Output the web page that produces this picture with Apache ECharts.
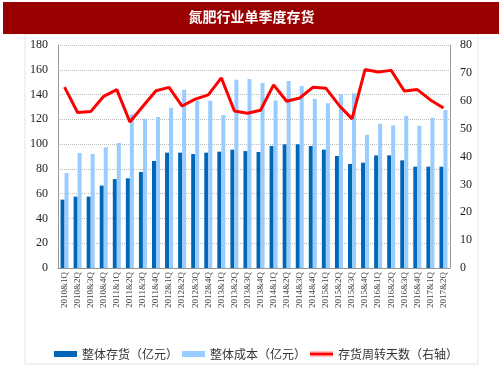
<!DOCTYPE html>
<html>
<head>
<meta charset="utf-8">
<script src="https://cdn.jsdelivr.net/npm/echarts@6/dist/echarts.min.js"></script>
<style>
  html, body { margin: 0; padding: 0; background: #fff; }
  #main { width: 503px; height: 378px; }
</style>
</head>
<body>
<div id="main"></div>
<script>
// 季度
const quarters = [
  '2010&1Q', '2010&2Q', '2010&3Q', '2010&4Q', '2011&1Q', '2011&2Q', '2011&3Q', '2011&4Q',
  '2012&1Q', '2012&2Q', '2012&3Q', '2012&4Q', '2013&1Q', '2013&2Q', '2013&3Q', '2013&4Q',
  '2014&1Q', '2014&2Q', '2014&3Q', '2014&4Q', '2015&1Q', '2015&2Q', '2015&3Q', '2015&4Q',
  '2016&1Q', '2016&2Q', '2016&3Q', '2016&4Q', '2017&1Q', '2017&2Q'
];
// 整体存货（亿元）
const inventory = [
  55.2, 57.6, 57.6, 66.5, 71.8, 72.4, 77.5, 86.4, 93.1, 93.1, 92.0, 93.1, 93.9, 95.5, 94.4,
  93.6, 98.5, 99.8, 99.8, 98.5, 95.5, 90.4, 83.9, 85.0, 90.9, 90.9, 86.9, 81.8, 81.8, 81.8
];
// 整体成本（亿元）
const cost = [
  76.7, 92.8, 92.0, 97.4, 100.9, 124.0, 120.5, 121.9, 129.4, 143.9, 135.3, 135.1, 123.5, 152.0, 152.5,
  149.3, 135.3, 150.9, 146.9, 136.4, 132.9, 140.2, 141.0, 107.6, 116.5, 115.1, 122.9, 114.9, 121.3, 127.5
];
// 存货周转天数（右轴）
const turnoverDays = [
  64.9, 55.8, 56.1, 61.6, 64.0, 52.4, 58.0, 63.6, 64.8, 58.1, 60.6, 62.1, 68.2, 56.3, 55.5,
  56.6, 65.7, 59.8, 61.0, 64.8, 64.5, 58.4, 53.5, 71.2, 70.3, 70.9, 63.5, 64.0, 60.3, 57.4
];

const chart = echarts.init(document.getElementById('main'));
const serif = '"Liberation Serif", "DejaVu Serif", serif';
const cjk = '"Noto Sans CJK SC", sans-serif';

chart.setOption({
  animation: false,
  backgroundColor: '#fff',
  graphic: [
    {
      type: 'rect', z: -1,
      shape: { x: 25, y: 34, width: 453, height: 330 },
      style: { fill: '#fff', stroke: '#e4e4e4', lineWidth: 1 }
    },
    {
      type: 'rect', z: 0,
      shape: { x: 3, y: 2, width: 496, height: 32 },
      style: { fill: '#990000' }
    },
    {
      type: 'text', z: 1,
      left: 'center', top: 10,
      style: { text: '氮肥行业单季度存货', fill: '#fff', font: 'bold 14px ' + cjk }
    }
  ],
  legend: {
    left: 49,
    top: 343,
    itemWidth: 23,
    itemHeight: 6,
    itemGap: 4,
    textStyle: { fontFamily: cjk, fontSize: 12, color: '#333' },
    data: [
      { name: '整体存货（亿元）', icon: 'rect' },
      { name: '整体成本（亿元）', icon: 'rect' },
      { name: '存货周转天数（右轴）', icon: 'path://M0,0L24,0L24,0.01L0,0.01ZM0,1.5L24,1.5L24,4.5L0,4.5ZM0,6L24,6L24,6.01L0,6.01Z' }
    ]
  },
  grid: { left: 58, right: 53, top: 45, bottom: 110 },
  xAxis: {
    type: 'category',
    data: quarters,
    axisLine: { lineStyle: { color: '#999' } },
    axisTick: { show: false },
    axisLabel: {
      interval: 0,
      rotate: 90,
      fontFamily: serif,
      fontSize: 9,
      color: '#444',
      margin: 4
    }
  },
  yAxis: [
    {
      type: 'value',
      min: 0, max: 180, interval: 20,
      axisLine: { show: true, lineStyle: { color: '#999' } },
      axisTick: { show: false },
      axisLabel: { fontFamily: serif, fontSize: 12, color: '#222', margin: 10 },
      splitLine: { lineStyle: { color: '#bbb', type: 'dotted' } }
    },
    {
      type: 'value',
      min: 0, max: 80, interval: 10,
      axisLine: { show: true, lineStyle: { color: '#999' } },
      axisTick: { show: false },
      axisLabel: { fontFamily: serif, fontSize: 12, color: '#222', margin: 10 },
      splitLine: { show: false }
    }
  ],
  series: [
    {
      name: '整体存货（亿元）',
      type: 'bar',
      data: inventory,
      barWidth: 4,
      barGap: '0%',
      itemStyle: { color: '#0066B8' }
    },
    {
      name: '整体成本（亿元）',
      type: 'bar',
      data: cost,
      barWidth: 4,
      barGap: '0%',
      itemStyle: { color: '#99CCFF' }
    },
    {
      name: '存货周转天数（右轴）',
      type: 'line',
      yAxisIndex: 1,
      data: turnoverDays,
      symbol: 'none',
      lineStyle: { color: '#FF0000', width: 3 },
      itemStyle: { color: '#FF0000' }
    }
  ]
});
</script>
</body>
</html>
